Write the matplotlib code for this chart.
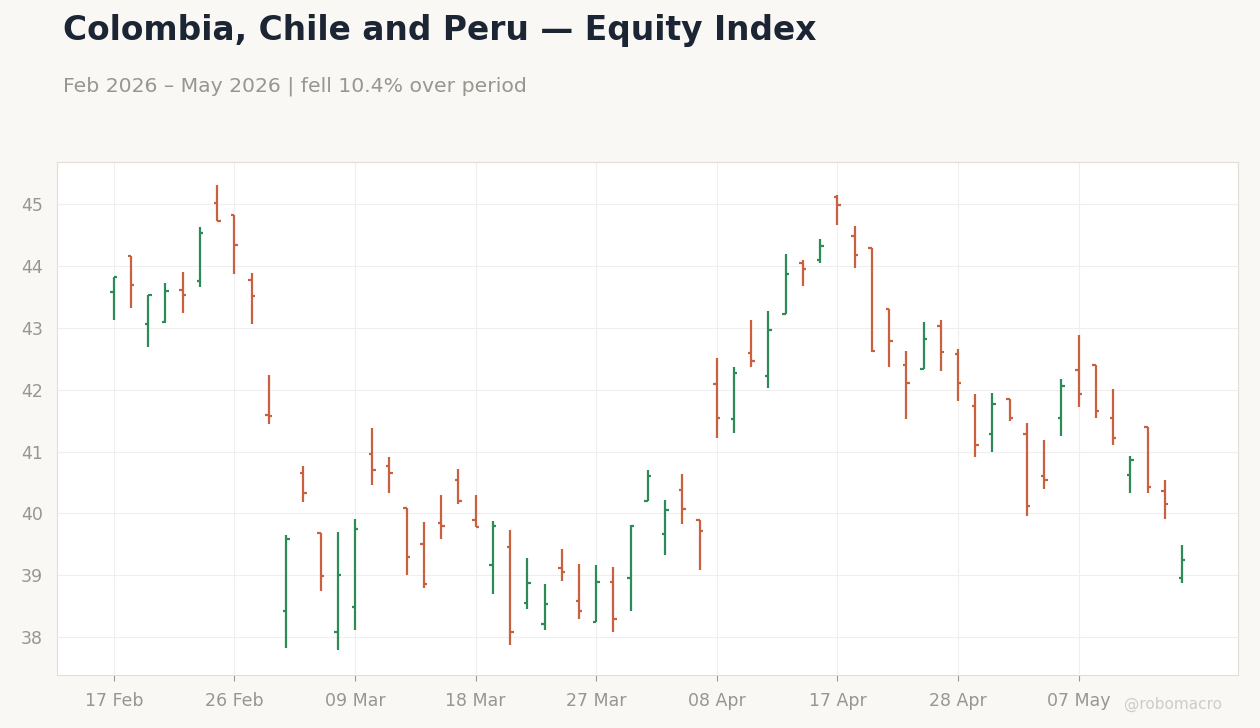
import numpy as np
import matplotlib
matplotlib.use("Agg")
import matplotlib.pyplot as plt

# ---- palette ----
BG    = "#f9f8f5"
PANEL = "#ffffff"
GRIDC = "#efefef"
TITLE = "#1c2533"
SUB   = "#999690"
UP    = "#2e8b57"
DOWN  = "#c9603f"

# ---- data: daily OHLC, Feb 17 2026 -> May 15 2026 (trading days) ----
opens  = [43.58, 44.16, 43.06, 43.09, 43.61, 43.75, 45.01, 44.82, 43.77, 41.59,
          38.43, 40.66, 39.69, 38.08, 38.49, 40.96, 40.77, 40.09, 39.51, 39.85,
          40.54, 39.90, 39.16, 39.46, 38.56, 38.22, 39.12, 38.58, 38.24, 38.90,
          38.96, 40.20, 39.67, 40.38, 39.89, 42.09, 41.53, 42.59, 42.22, 43.23,
          44.04, 44.09, 45.12, 44.49, 44.29, 43.30, 42.40, 42.34, 43.03, 42.58,
          41.74, 41.29, 41.85, 41.29, 40.61, 41.54, 42.32, 42.40, 41.54, 40.62,
          41.40, 40.37, 38.95]
highs  = [43.82, 44.16, 43.53, 43.73, 43.91, 44.63, 45.30, 44.82, 43.88, 42.23,
          39.65, 40.76, 39.69, 39.70, 39.91, 41.38, 40.91, 40.09, 39.86, 40.30,
          40.72, 40.30, 39.88, 39.73, 39.28, 38.86, 39.42, 39.18, 39.17, 39.13,
          39.81, 40.70, 40.22, 40.63, 39.89, 42.51, 42.36, 43.13, 43.28, 44.20,
          44.09, 44.44, 45.15, 44.65, 44.29, 43.30, 42.63, 43.09, 43.12, 42.65,
          41.93, 41.94, 41.85, 41.47, 41.18, 42.18, 42.88, 42.40, 42.01, 40.93,
          41.40, 40.54, 39.49]
lows   = [43.12, 43.32, 42.69, 43.07, 43.24, 43.66, 44.73, 43.87, 43.06, 41.45,
          37.82, 40.19, 38.74, 37.79, 38.11, 40.46, 40.33, 39.01, 38.79, 39.58,
          40.16, 39.78, 38.70, 37.87, 38.45, 38.12, 38.91, 38.29, 38.24, 38.08,
          38.43, 40.20, 39.33, 39.83, 39.09, 41.22, 41.30, 42.37, 42.03, 43.23,
          43.67, 44.04, 44.66, 43.96, 42.61, 42.37, 41.53, 42.34, 42.30, 41.82,
          40.91, 41.00, 41.50, 39.96, 40.40, 41.25, 41.72, 41.54, 41.11, 40.33,
          40.33, 39.91, 38.88]
closes = [43.82, 43.70, 43.53, 43.59, 43.53, 44.54, 44.73, 44.34, 43.51, 41.58,
          39.59, 40.33, 38.99, 39.01, 39.75, 40.70, 40.66, 39.30, 38.86, 39.80,
          40.20, 39.78, 39.79, 38.08, 38.87, 38.53, 39.06, 38.43, 38.90, 38.30,
          39.79, 40.61, 40.06, 40.08, 39.72, 41.54, 42.27, 42.46, 42.96, 43.87,
          43.95, 44.33, 44.98, 44.17, 42.63, 42.79, 42.11, 42.82, 42.61, 42.11,
          41.11, 41.77, 41.54, 40.12, 40.54, 42.06, 41.93, 41.66, 41.22, 40.87,
          40.43, 40.16, 39.25]

tick_pos    = [0, 7, 14, 21, 28, 35, 42, 49, 56]
tick_labels = ["17 Feb", "26 Feb", "09 Mar", "18 Mar", "27 Mar",
               "08 Apr", "17 Apr", "28 Apr", "07 May"]
y_ticks     = [38, 39, 40, 41, 42, 43, 44, 45]

o = np.array(opens); h = np.array(highs); l = np.array(lows); c = np.array(closes)
x = np.arange(len(o))
cols = [UP if cc >= oo else DOWN for oo, cc in zip(o, c)]

fig = plt.figure(figsize=(12.6, 7.28), dpi=100)
fig.patch.set_facecolor(BG)
ax = fig.add_axes([0.0452, 0.0728, 0.9373, 0.7047])
ax.set_facecolor(PANEL)

ax.grid(True, color=GRIDC, lw=0.8, zorder=0)
ax.set_axisbelow(True)

tw = 0.2  # open/close tick length
ax.vlines(x, l, h, colors=cols, lw=1.6, zorder=3)
ax.hlines(o, x - tw, x, colors=cols, lw=1.6, zorder=3)
ax.hlines(c, x, x + tw, colors=cols, lw=1.6, zorder=3)

ax.set_xlim(-3.3, len(o) - 1 + 3.25)
ax.set_ylim(37.39, 45.68)
ax.set_xticks(tick_pos)
ax.set_xticklabels(tick_labels)
ax.set_yticks(y_ticks)
ax.tick_params(axis="x", colors="#999999", labelcolor=SUB, labelsize=12.5, length=4, pad=8)
ax.tick_params(axis="y", colors=SUB, labelsize=12.5, length=0, pad=10)
for s in ax.spines.values():
    s.set_color("#e2ddd6")

fig.text(0.05, 0.958, "Colombia, Chile and Peru \u2014 Equity Index", color=TITLE,
         fontsize=23.7, fontweight="bold", va="center")
fig.text(0.05, 0.882, "Feb 2026 \u2013 May 2026 | fell 10.4% over period", color=SUB,
         fontsize=14.7, va="center")
fig.text(0.97, 0.032, "@robomacro", color="#cccccc", fontsize=11, ha="right", va="center")

fig.savefig("out.png", facecolor=BG)
